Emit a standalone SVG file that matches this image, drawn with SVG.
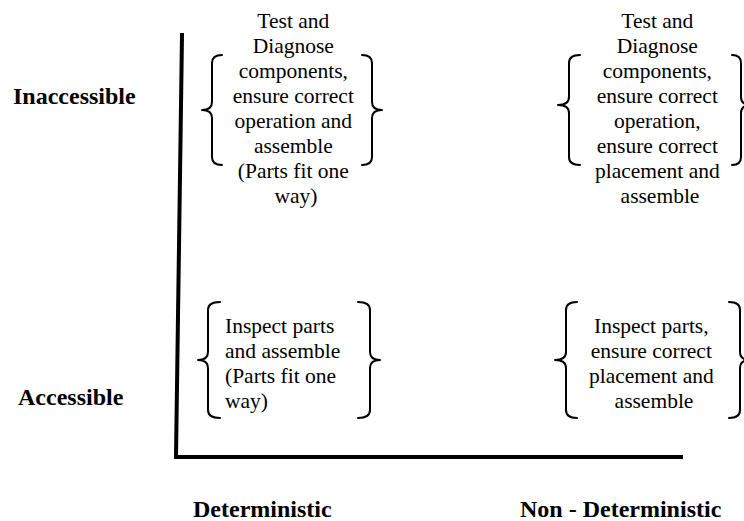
<svg xmlns="http://www.w3.org/2000/svg" width="744" height="521" viewBox="0 0 744 521">
<style>
.body{font-family:"Liberation Serif","Times New Roman",serif;font-size:21.5px;fill:#000}
.lbl{font-family:"Liberation Serif","Times New Roman",serif;font-size:24px;font-weight:bold;fill:#000}
.br{fill:none;stroke:#000;stroke-width:2;stroke-linecap:round;stroke-linejoin:round}
.ax{fill:none;stroke:#000;stroke-width:4;stroke-linecap:square}
</style>
<rect width="744" height="521" fill="#fff"/>
<g id="connectors">
<line class="ax" x1="182" y1="35" x2="176" y2="457"/>
<line class="ax" x1="176" y1="457" x2="681" y2="457"/>
</g>
<g id="label-inaccessible"><text class="lbl" x="13" y="104">Inaccessible</text></g>
<g id="label-accessible"><text class="lbl" x="18" y="405">Accessible</text></g>
<g id="label-deterministic"><text class="lbl" x="193" y="517">Deterministic</text></g>
<g id="label-nondeterministic"><text class="lbl" x="520" y="517">Non - Deterministic</text></g>
<g id="node-top-left">
<path class="br" d="M222,55 Q212,55 212,63 L212,102 Q212,110 202,110 Q212,110 212,118 L212,157 Q212,165 222,165"/>
<path class="br" d="M362,55 Q372,55 372,63 L372,102 Q372,110 382,110 Q372,110 372,118 L372,157 Q372,165 362,165"/>
<text class="body" text-anchor="middle">
<tspan x="296" y="28">Test and</tspan>
<tspan x="296" y="53">Diagnose</tspan>
<tspan x="296" y="78">components,</tspan>
<tspan x="296" y="103">ensure correct</tspan>
<tspan x="296" y="128">operation and</tspan>
<tspan x="296" y="153">assemble</tspan>
<tspan x="296" y="178">(Parts fit one</tspan>
<tspan x="296" y="203">way)</tspan>
</text>
</g>
<g id="node-top-right">
<path class="br" d="M580,55 Q569,55 569,63 L569,97 Q569,105 558,105 Q569,105 569,113 L569,157 Q569,165 580,165"/>
<path class="br" d="M732,55 Q741,55 741,63 L741,97 Q741,105 751,105 Q741,105 741,113 L741,157 Q741,165 732,165"/>
<text class="body" text-anchor="middle">
<tspan x="660" y="28">Test and</tspan>
<tspan x="660" y="53">Diagnose</tspan>
<tspan x="660" y="78">components,</tspan>
<tspan x="660" y="103">ensure correct</tspan>
<tspan x="660" y="128">operation,</tspan>
<tspan x="660" y="153">ensure correct</tspan>
<tspan x="660" y="178">placement and</tspan>
<tspan x="660" y="203">assemble</tspan>
</text>
</g>
<g id="node-bottom-left">
<path class="br" d="M220,302 Q208,302 208,310 L208,352 Q208,360 198,360 Q208,360 208,368 L208,410 Q208,418 220,418"/>
<path class="br" d="M358,302 Q370,302 370,310 L370,352 Q370,360 380,360 Q370,360 370,368 L370,410 Q370,418 358,418"/>
<text class="body">
<tspan x="225" y="333">Inspect parts</tspan>
<tspan x="225" y="358">and assemble</tspan>
<tspan x="225" y="383">(Parts fit one</tspan>
<tspan x="225" y="408">way)</tspan>
</text>
</g>
<g id="node-bottom-right">
<path class="br" d="M577,302 Q566,302 566,310 L566,352 Q566,360 555,360 Q566,360 566,368 L566,410 Q566,418 577,418"/>
<path class="br" d="M729,302 Q740,302 740,310 L740,352 Q740,360 750,360 Q740,360 740,368 L740,410 Q740,418 729,418"/>
<text class="body" text-anchor="middle">
<tspan x="654" y="333">Inspect parts,</tspan>
<tspan x="654" y="358">ensure correct</tspan>
<tspan x="654" y="383">placement and</tspan>
<tspan x="654" y="408">assemble</tspan>
</text>
</g>
</svg>
